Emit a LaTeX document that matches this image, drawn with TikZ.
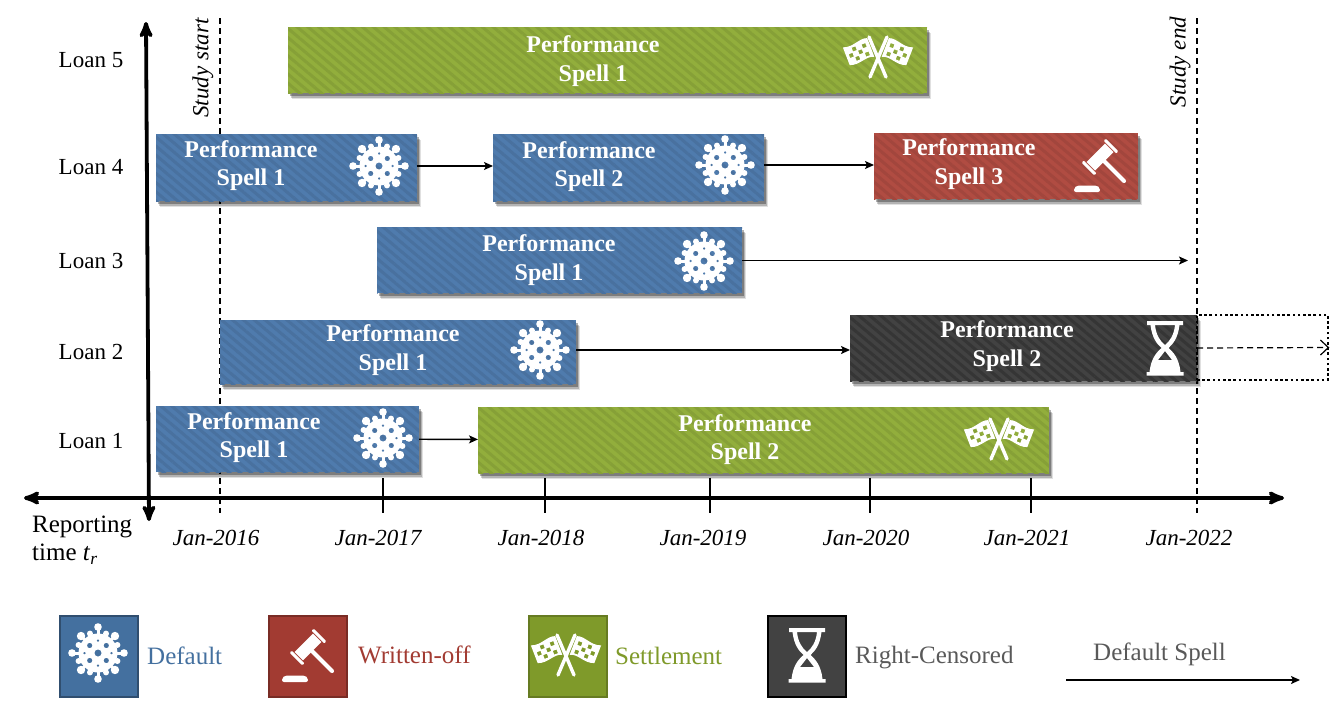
\documentclass[tikz,border=0pt]{standalone}
\usepackage{fontspec}
\setmainfont{Liberation Serif}
\usepackage{xcolor}
\usetikzlibrary{arrows,arrows.meta,shadows,patterns.meta}

\definecolor{spellblue}{HTML}{4F7BAD}
\definecolor{spellred}{HTML}{B04C42}
\definecolor{spellgreen}{HTML}{92AE3C}
\definecolor{spelldark}{HTML}{424242}
\definecolor{lgblue}{HTML}{44709F}
\definecolor{lgred}{HTML}{A23B32}
\definecolor{lggreen}{HTML}{7F9A2A}
\definecolor{lgtext}{HTML}{595959}

\tikzset{
  spell/.style={inner sep=0pt, outer sep=0pt,
    drop shadow={shadow xshift=3.5pt, shadow yshift=-6pt, opacity=.12, fill=black},
    drop shadow={shadow xshift=2.5pt, shadow yshift=-4.5pt, opacity=.2, fill=black},
    drop shadow={shadow xshift=1.5pt, shadow yshift=-3pt, opacity=.3, fill=black}},
  bluebar/.style={fill=spellblue, postaction={pattern={Lines[angle=-40,distance=7pt,line width=3pt]}, pattern color=spellblue!92!black}},
  redbar/.style={fill=spellred, postaction={pattern={Lines[angle=-40,distance=7pt,line width=3pt]}, pattern color=spellred!92!black}},
  greenbar/.style={fill=spellgreen, postaction={pattern={Lines[angle=-40,distance=7pt,line width=3pt]}, pattern color=spellgreen!92!black}},
  darkbar/.style={fill=spelldark, postaction={pattern={Lines[angle=-40,distance=7pt,line width=3pt]}, pattern color=spelldark!80!black}},
  spelltxt/.style={text=white, align=center, font=\fontsize{24}{28.5}\selectfont\bfseries},
  loan/.style={font=\fontsize{23}{27}\selectfont},
  date/.style={font=\fontsize{23}{27}\selectfont\itshape},
  study/.style={rotate=90, font=\fontsize{23}{27}\selectfont\itshape},
  lgbox/.style={inner sep=0pt, line width=2pt, minimum width=78pt, minimum height=81pt},
  lgtxt/.style={anchor=west, inner sep=0pt, font=\fontsize{25}{29}\selectfont},
  link/.style={-{Stealth[length=9pt,width=8pt,inset=2pt]}, line width=1.4pt},
  timeline/.style={<->, >=stealth', line width=3.8pt},
  guide/.style={line width=1.5pt, dash pattern=on 6pt off 4pt},
  virus/.pic={
    \fill[white, even odd rule] (0,0) circle [radius=19.5pt]
      (0,0) circle [radius=3.6pt]
      (8.3,-7.5) circle [radius=2.7pt] (-8.3,-7.5) circle [radius=2.7pt]
      (8.3,7.5) circle [radius=2.7pt] (-8.3,7.5) circle [radius=2.7pt]
      (0,-12.5) circle [radius=1.5pt] (0,12.5) circle [radius=1.5pt]
      (13.5,0) circle [radius=1.5pt] (-13.5,0) circle [radius=1.5pt];
    \foreach \a in {0,90,180,270} {
      \draw[white, line width=3pt] (\a:19) -- (\a:26);
      \fill[white] (\a:26) circle [radius=3.8pt];
    }
    \foreach \a in {45,135,225,315} {
      \draw[white, line width=3pt] (\a:19) -- (\a:23);
      \fill[white] (\a:24) circle [radius=4.2pt];
    }
    \foreach \a in {22.5,67.5,...,337.5} {
      \fill[white] (\a:21) circle [radius=3pt];
    }
  },
  gavel/.pic={
    \begin{scope}[shift={(0,-8)}, rotate=-45]
      \fill[white] (-6,-13) rectangle (6,13);
      \fill[white, rounded corners=1pt] (-9,-17) rectangle (9,-14);
      \fill[white, rounded corners=1pt] (-9,14) rectangle (9,17);
      \draw[white, line width=4pt, line cap=round] (6,0) -- (34,0);
    \end{scope}
    \fill[white, rounded corners=2pt] (-26,23) -- (-23,20.5) -- (-3,20.5) -- (0,23) -- (0,27) -- (-26,27) -- cycle;
  },
  flags/.pic={
    \foreach \s in {1,-1} {
      \begin{scope}[xscale=\s]
        \draw[white, line width=3.4pt, line cap=round] (9,-20) -- (-8,20);
        \begin{scope}[shift={(10.5,-18)}, rotate=-21]
          \fill[white, even odd rule] (0,-1) .. controls (8,-4) and (16,3) .. (26,-1) -- (26,18) .. controls (16,22) and (8,15) .. (0,19) -- cycle
            (3.5,3) rectangle +(4,4) (14,2.5) rectangle +(4,4)
            (9,7.5) rectangle +(4,4) (19,7.5) rectangle +(4,4)
            (3.5,12) rectangle +(4,4) (14,12.5) rectangle +(4,4);
        \end{scope}
      \end{scope}
    }
  },
  hourglass/.pic={
    \fill[white, even odd rule] (-18,-27) -- (18,-27) -- (18,-23) -- (14.5,-23) .. controls (13,-10) and (8,-4) .. (3.5,0)
      .. controls (8,4) and (14,10) .. (15.5,24) -- (18.5,24) -- (18.5,27.5) -- (-18.5,27.5) -- (-18.5,24) -- (-15.5,24)
      .. controls (-14,10) and (-8,4) .. (-3.5,0) .. controls (-8,-4) and (-13,-10) .. (-14.5,-23) -- (-18,-23) -- cycle
      (-10,-23) -- (10,-23) .. controls (9,-13) and (5,-7) .. (0,-3) .. controls (-5,-7) and (-9,-13) .. (-10,-23) -- cycle
      (0,3) -- (7,12) -- (-7,12) -- cycle;
  }
}

\begin{document}
\begin{tikzpicture}[x=1pt, y=-1pt]
\useasboundingbox (0,0) rectangle (1344,728);

% guides and axes
\coordinate (startT) at (220,18);
\coordinate (startB) at (220,513);
\coordinate (endT) at (1197,18);
\coordinate (endB) at (1197,513);
\coordinate (axisL) at (24,498);
\coordinate (axisR) at (1284,498);
\coordinate (axisT) at (146,22);
\coordinate (axisB) at (149,521);
\draw[guide] (startT) -- (startB);
\draw[guide] (endT) -- (endB);
\draw[timeline] (axisL) -- (axisR);
\draw[timeline] (axisT) -- (axisB);

\foreach \tx/\yr in {383/2017,545/2018,710/2019,870/2020,1031/2021} {
  \coordinate (tick\yr) at (\tx,478);
  \draw[line width=1.5pt] (tick\yr) -- ++(0,35);
}
\foreach \lx/\yr in {216/2016,378/2017,541/2018,703/2019,866/2020,1027/2021,1189/2022} {
  \node[date] (date\yr) at (\lx,538) {Jan-\yr};
}

\node[study] (studystart) at (203,68) {Study start};
\node[study] (studyend) at (1180,62) {Study end};

\node[loan] (loan5) at (91,60) {Loan 5};
\node[loan] (loan4) at (91,167) {Loan 4};
\node[loan] (loan3) at (91,261) {Loan 3};
\node[loan] (loan2) at (91,352) {Loan 2};
\node[loan] (loan1) at (91,441) {Loan 1};
\node[anchor=west, inner sep=0pt, align=left, font=\fontsize{25}{28}\selectfont] (reporting) at (32,540) {Reporting\\time \textit{t}\textsubscript{\textit{r}}};

% spells
\node[spell, greenbar, minimum width=639pt, minimum height=66pt] (l5s1) at (607.5,60) {};
\node[spell, bluebar, minimum width=261pt, minimum height=67pt] (l4s1) at (286.5,167.5) {};
\node[spell, bluebar, minimum width=271pt, minimum height=67pt] (l4s2) at (628.5,167.5) {};
\node[spell, redbar, minimum width=264pt, minimum height=66pt] (l4s3) at (1006,166) {};
\node[spell, bluebar, minimum width=365pt, minimum height=66pt] (l3s1) at (559.5,260) {};
\node[spell, bluebar, minimum width=356pt, minimum height=64pt] (l2s1) at (398,352) {};
\node[spell, darkbar, minimum width=347pt, minimum height=66pt] (l2s2) at (1023.5,348) {};
\node[spell, bluebar, minimum width=263pt, minimum height=66pt] (l1s1) at (287.5,439) {};
\node[spell, greenbar, minimum width=571pt, minimum height=66pt] (l1s2) at (763.5,440) {};
\node[inner sep=0pt, draw, line width=2.6pt, dash pattern=on 2.6pt off 2.6pt, minimum width=131pt, minimum height=65pt] (censored) at (1262.5,347.5) {};
\coordinate (l3end) at (1188,260.5);

\node[spelltxt] (l5s1txt) at (593,61) {Performance\\Spell 1};
\node[spelltxt] (l4s1txt) at (251,165.5) {Performance\\Spell 1};
\node[spelltxt] (l4s2txt) at (589,166.5) {Performance\\Spell 2};
\node[spelltxt] (l4s3txt) at (969,164) {Performance\\Spell 3};
\node[spelltxt] (l3s1txt) at (549,260) {Performance\\Spell 1};
\node[spelltxt] (l2s1txt) at (393,350) {Performance\\Spell 1};
\node[spelltxt] (l2s2txt) at (1007,346) {Performance\\Spell 2};
\node[spelltxt] (l1s1txt) at (254,437.5) {Performance\\Spell 1};
\node[spelltxt] (l1s2txt) at (745,439.5) {Performance\\Spell 2};

\pic at (878,57) {flags};
\pic at (379,166) {virus};
\pic at (725,165) {virus};
\pic at (1100,165) {gavel};
\pic at (704,261) {virus};
\pic at (540,350) {virus};
\pic at (1165,348) {hourglass};
\pic at (383,438) {virus};
\pic at (999,439) {flags};

\draw[link] ([yshift=1.5pt]l4s1.east) -- ([yshift=1.5pt]l4s2.west);
\draw[link] ([yshift=2.5pt]l4s2.east) -- ([yshift=1pt]l4s3.west);
\draw[link] (l3s1.east |- l3end) -- (l3end);
\draw[link] ([yshift=2pt]l2s1.east) -- ([yshift=-2pt]l2s2.west);
\draw[link] (l1s1) -- (l1s2);
\draw[guide, -{Straight Barb[length=8pt,width=15pt]}, line width=1.2pt] (l2s2.east) -- (censored.east);

% legend
\node[lgbox, fill=lgblue, draw=lgblue!70!black] (lgdefault) at (99,656) {};
\node[lgbox, fill=lgred, draw=lgred!75!black] (lgwritten) at (307.5,656) {};
\node[lgbox, fill=lggreen, draw=lggreen!80!black] (lgsettle) at (567.5,656) {};
\node[lgbox, fill=spelldark, draw=black] (lgcensor) at (807,656) {};
\pic at (98,653) {virus};
\pic at (308,655) {gavel};
\pic at (566,655) {flags};
\pic at (807,655) {hourglass};
\node[lgtxt, text=lgblue] (lgdefaulttxt) at (147,656) {Default};
\node[lgtxt, text=lgred] (lgwrittentxt) at (358,655) {Written-off};
\node[lgtxt, text=lggreen] (lgsettletxt) at (615,656) {Settlement};
\node[lgtxt, text=lgtext] (lgcensortxt) at (855,658) {Right-Censored};
\node[lgtxt, text=lgtext] (lgspelltxt) at (1093,654) {Default Spell};
\coordinate (lgarrowL) at (1066,680);
\coordinate (lgarrowR) at (1300,680);
\draw[link] (lgarrowL) -- (lgarrowR);
\end{tikzpicture}
\end{document}
